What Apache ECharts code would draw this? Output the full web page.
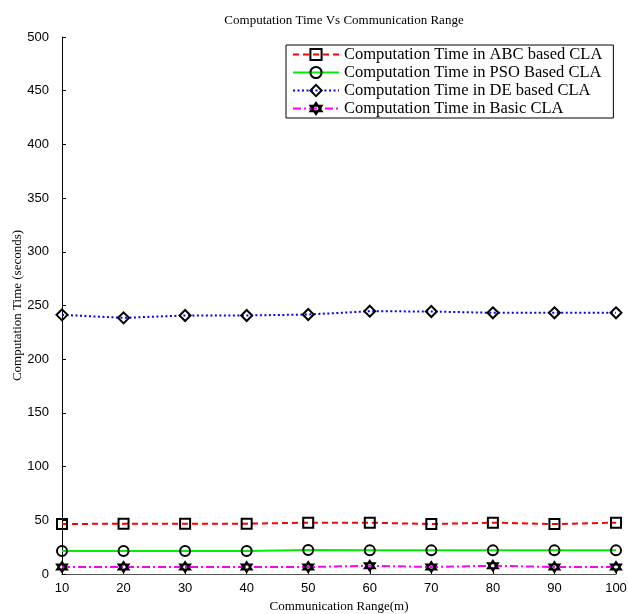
<!DOCTYPE html>
<html>
<head>
<meta charset="utf-8">
<script src="https://cdn.jsdelivr.net/npm/echarts@6/dist/echarts.min.js"></script>
<style>html,body{margin:0;padding:0;background:#fff}#c{width:628px;height:614px}</style>
</head>
<body>
<div id="c"></div>
<script>
var ranges = [10, 20, 30, 40, 50, 60, 70, 80, 90, 100];
var abcTime = [46.5, 46.9, 46.9, 46.9, 47.8, 47.8, 46.5, 47.8, 46.5, 47.8];
var psoTime = [21.4, 21.4, 21.4, 21.4, 22.3, 22, 22, 22, 22, 22];
var deTime = [241.3, 238.5, 240.7, 240.7, 241.6, 244.7, 244.4, 243.2, 243.2, 243.2];
var basicTime = [6.5, 6.5, 6.5, 6.5, 6.5, 7.7, 6.5, 7.7, 6.5, 6.5];
var seriesNames = ['Computation Time in ABC based CLA', 'Computation Time in PSO Based CLA', 'Computation Time in DE based CLA', 'Computation Time in Basic CLA'];

function pairs(vals) { return ranges.map(function (r, i) { return [r, vals[i]]; }); }

var diamond = 'path://M0,-1 L1,0 L0,1 L-1,0 Z';
var hexagram = 'path://M0,-10 L8.66,5 L-8.66,5 Z M0,10 L8.66,-5 L-8.66,-5 Z';
var markerStyle = { color: 'rgba(255,255,255,0)', borderColor: '#000', borderWidth: 2 };

var chart = echarts.init(document.getElementById('c'));
chart.setOption({
  animation: false,
  backgroundColor: '#fff',
  title: {
    text: 'Computation Time Vs Communication Range',
    left: 339, top: 9, textAlign: 'center',
    textStyle: { fontFamily: 'Liberation Serif', fontSize: 13, fontWeight: 'normal', color: '#000' }
  },
  legend: {
    orient: 'vertical', left: 286, top: 45,
    padding: [1, 11, 1, 6], itemGap: 1, itemWidth: 46, itemHeight: 14,
    borderColor: '#000', borderWidth: 1, backgroundColor: '#fff',
    textStyle: { fontFamily: 'Liberation Serif', fontSize: 16.5, color: '#000' },
    data: seriesNames
  },
  grid: { left: 62, right: 12, top: 37, bottom: 40, containLabel: false, outerBoundsMode: 'none' },
  xAxis: {
    type: 'value', min: 10, max: 100, interval: 10,
    name: 'Communication Range(m)', nameLocation: 'middle', nameGap: 26,
    nameTextStyle: { fontFamily: 'Liberation Serif', fontSize: 13, color: '#000' },
    axisLine: { lineStyle: { color: '#555', width: 1 } },
    axisTick: { inside: true, length: 4, lineStyle: { color: '#000' } },
    axisLabel: { fontFamily: 'Liberation Sans', fontSize: 13, color: '#000', margin: 8 },
    splitLine: { show: false }
  },
  yAxis: {
    type: 'value', min: 0, max: 500, interval: 50,
    name: 'Computation Time (seconds)', nameLocation: 'middle', nameGap: 38, nameMoveOverlap: false,
    nameTextStyle: { fontFamily: 'Liberation Serif', fontSize: 13, color: '#000' },
    axisLine: { show: true, lineStyle: { color: '#000', width: 1 } },
    axisTick: { show: true, inside: true, length: 4, lineStyle: { color: '#000' } },
    axisLabel: { fontFamily: 'Liberation Sans', fontSize: 13, color: '#000', margin: 13 },
    splitLine: { show: false }
  },
  series: [
    {
      name: seriesNames[0], type: 'line', data: pairs(abcTime),
      symbol: 'rect', symbolSize: 10, showAllSymbol: true,
      lineStyle: { color: '#ff0000', width: 2, type: [6, 4] },
      itemStyle: markerStyle, z: 3
    },
    {
      name: seriesNames[1], type: 'line', data: pairs(psoTime),
      symbol: 'circle', symbolSize: 10, showAllSymbol: true,
      lineStyle: { color: '#00ee00', width: 2, type: 'solid' },
      itemStyle: markerStyle, z: 3
    },
    {
      name: seriesNames[2], type: 'line', data: pairs(deTime),
      symbol: diamond, symbolSize: 11, showAllSymbol: true,
      lineStyle: { color: '#0000ff', width: 2, type: [2, 2.5] },
      itemStyle: markerStyle, z: 3
    },
    {
      name: seriesNames[3], type: 'line', data: pairs(basicTime),
      symbol: hexagram, symbolSize: 10, showAllSymbol: true,
      lineStyle: { color: '#ff00ff', width: 2, type: [8, 3, 2, 3] },
      itemStyle: { color: '#ff00ff', borderColor: '#000', borderWidth: 2 }, z: 3
    }
  ]
});
</script>
</body>
</html>
